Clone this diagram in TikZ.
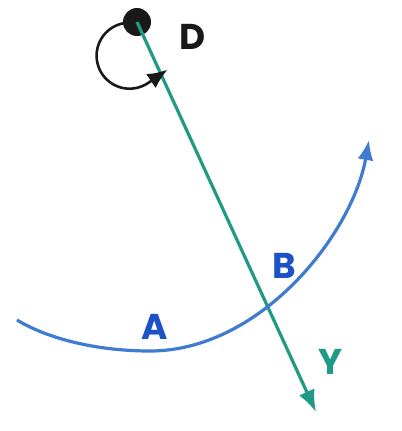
\documentclass[tikz,border=0pt]{standalone}
\usepackage{fontspec}
\setmainfont{Poppins}
\usetikzlibrary{arrows.meta}

\definecolor{rayteal}{HTML}{1F9A86}
\definecolor{arcblue}{HTML}{3F7BD0}
\definecolor{labelblue}{HTML}{1D52C6}

\tikzset{
    lbl/.style={font=\fontsize{36}{36}\selectfont\bfseries, inner sep=0pt},
}

\begin{document}
\begin{tikzpicture}[x=1bp, y=-1bp]
    \useasboundingbox (0,0) rectangle (402,431);

    % the ray from D
    \coordinate (ytip) at (316,412);
    \node (D) [circle, fill=black!90, minimum size=28bp, inner sep=0pt] at (137,22) {};
    \draw [rayteal, line width=3.2bp, -{Latex[length=22bp, width=17bp]}] (D.center) -- (ytip);

    % turning arrow round D
    \draw [black!90, line width=2.6bp, -{Latex[length=20bp, width=17bp]}]
        (125,23) arc [start angle=98, end angle=305, radius=33bp] -- ++(19,-13);

    % the curve A--B
    \draw [arcblue, line width=3.2bp, -{Latex[length=20bp, width=16bp]}]
        (17,320) .. controls (50,340) and (100,351) .. (150,351)
        .. controls (260,351) and (352,235) .. (369,140);

    \node (Dlabel) [lbl, black!90] at (193,37) {D};
    \node (Alabel) [lbl, labelblue] at (155,327) {A};
    \node (Blabel) [lbl, labelblue] at (284,266) {B};
    \node (Ylabel) [lbl, rayteal] at (331,362) {Y};
\end{tikzpicture}
\end{document}
